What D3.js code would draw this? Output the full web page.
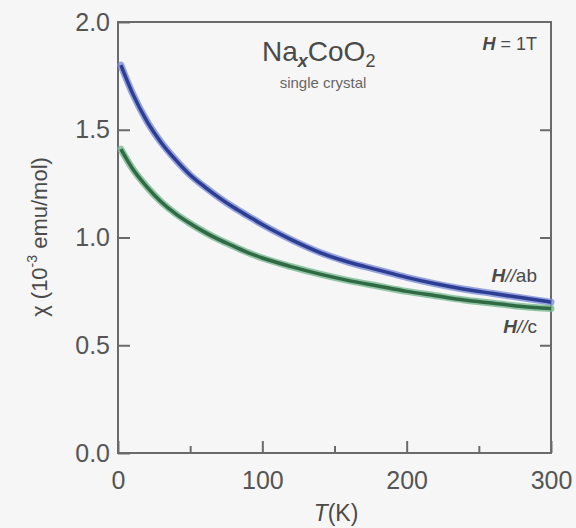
<!DOCTYPE html>
<html>
<head>
<meta charset="utf-8">
<script src="https://cdn.jsdelivr.net/npm/d3@7"></script>
<style>
  html, body { margin: 0; padding: 0; background: #f6f6f6; }
  svg { display: block; font-family: "Liberation Sans", Arial, sans-serif; }
  .axis path, .axis line { stroke: #6a6a6a; stroke-width: 2; }
  .axis text { fill: #555; font-size: 25px; font-family: "Liberation Sans", Arial, sans-serif; }
</style>
</head>
<body>
<div id="chart"></div>
<script>
// Data: temperature in K, chi in 1e-3 emu/mol
const temps   = [2, 10, 20, 30, 40, 50, 60, 70, 80, 90, 100, 120, 140, 160, 180, 200, 220, 240, 260, 280, 300];
const chiAB   = [1.80, 1.67, 1.54, 1.44, 1.36, 1.29, 1.235, 1.185, 1.14, 1.10, 1.06, 0.99, 0.93, 0.885, 0.85, 0.815, 0.785, 0.76, 0.74, 0.72, 0.70];
const chiC    = [1.41, 1.32, 1.235, 1.165, 1.11, 1.065, 1.025, 0.99, 0.96, 0.93, 0.905, 0.865, 0.83, 0.80, 0.775, 0.75, 0.73, 0.71, 0.695, 0.68, 0.67];
const xTicks  = [0, 100, 200, 300];
const xMinor  = [50, 150, 250];
const yTicks  = [0, 0.5, 1.0, 1.5, 2.0];

const width = 576, height = 528;
const margin = { top: 22, right: 25, bottom: 75, left: 118 };
const w = width - margin.left - margin.right;
const h = height - margin.top - margin.bottom;

const svg = d3.select("#chart").append("svg")
  .attr("width", width)
  .attr("height", height);

const g = svg.append("g").attr("transform", `translate(${margin.left},${margin.top})`);

const x = d3.scaleLinear().domain([0, 300]).range([0, w]);
const y = d3.scaleLinear().domain([0, 2.0]).range([h, 0]);

// frame
g.append("rect")
  .attr("width", w).attr("height", h)
  .attr("fill", "none")
  .attr("stroke", "#6a6a6a")
  .attr("stroke-width", 2);

// left axis
g.append("g").attr("class", "axis")
  .call(d3.axisLeft(y).tickValues(yTicks).tickFormat(d3.format(".1f")).tickSize(-12).tickPadding(8))
  .call(s => s.select(".domain").remove());

// right axis ticks
g.append("g").attr("class", "axis")
  .attr("transform", `translate(${w},0)`)
  .call(d3.axisRight(y).tickValues([0.5, 1.0, 1.5]).tickSize(-11).tickFormat(""))
  .call(s => s.select(".domain").remove());

// bottom axis
g.append("g").attr("class", "axis")
  .attr("transform", `translate(0,${h})`)
  .call(d3.axisBottom(x).tickValues(xTicks).tickSize(-12).tickPadding(18))
  .call(s => s.select(".domain").remove());

g.append("g").attr("class", "axis")
  .attr("transform", `translate(0,${h})`)
  .call(d3.axisBottom(x).tickValues(xMinor).tickSize(-7).tickFormat(""))
  .call(s => s.select(".domain").remove());

// curves
const series = [
  { name: "ab", values: chiAB, halo: "#7d8fd8", core: "#2d3d92" },
  { name: "c",  values: chiC,  halo: "#79b991", core: "#2f6a45" }
];

const line = d3.line()
  .x((d, i) => x(temps[i]))
  .y(d => y(d))
  .curve(d3.curveMonotoneX);

series.forEach(s => {
  g.append("path")
    .datum(s.values)
    .attr("fill", "none")
    .attr("stroke", s.halo)
    .attr("stroke-width", 7)
    .attr("stroke-opacity", 0.8)
    .attr("stroke-linecap", "round")
    .attr("d", line);
  g.append("path")
    .datum(s.values)
    .attr("fill", "none")
    .attr("stroke", s.core)
    .attr("stroke-width", 3.5)
    .attr("d", line);
});

// title
const title = svg.append("text")
  .attr("x", 262).attr("y", 61)
  .attr("fill", "#4a4a4a")
  .attr("font-size", 28);
title.append("tspan").text("Na");
title.append("tspan").attr("font-size", 18).attr("dy", 6)
  .attr("font-weight", "bold").attr("font-style", "italic").text("x");
title.append("tspan").attr("dy", -6).text("CoO");
title.append("tspan").attr("font-size", 18).attr("dy", 6).text("2");

svg.append("text")
  .attr("x", 323).attr("y", 88)
  .attr("text-anchor", "middle")
  .attr("fill", "#666")
  .attr("font-size", 15)
  .text("single crystal");

// field label
const field = svg.append("text")
  .attr("x", 537).attr("y", 50)
  .attr("text-anchor", "end")
  .attr("fill", "#4a4a4a")
  .attr("font-size", 18);
field.append("tspan").attr("font-weight", "bold").attr("font-style", "italic").text("H");
field.append("tspan").text(" = 1T");

// series labels
function seriesLabel(yPos, suffix) {
  const t = svg.append("text")
    .attr("x", 537).attr("y", yPos)
    .attr("text-anchor", "end")
    .attr("fill", "#4a4a4a")
    .attr("font-size", 19);
  t.append("tspan").attr("font-weight", "bold").attr("font-style", "italic").text("H");
  t.append("tspan").attr("font-style", "italic").text("//");
  t.append("tspan").text(suffix);
}
seriesLabel(282, "ab");
seriesLabel(333, "c");

// axis titles
const xt = svg.append("text")
  .attr("x", 336).attr("y", 521)
  .attr("text-anchor", "middle")
  .attr("fill", "#4a4a4a")
  .attr("font-size", 23);
xt.append("tspan").attr("font-style", "italic").text("T");
xt.append("tspan").text("(K)");

const yt = svg.append("text")
  .attr("transform", "translate(47,237) rotate(-90)")
  .attr("text-anchor", "middle")
  .attr("fill", "#4a4a4a")
  .attr("font-size", 22);
yt.append("tspan").text("χ (10");
yt.append("tspan").attr("font-size", 14).attr("dy", -10).text("-3");
yt.append("tspan").attr("dy", 10).text(" emu/mol)");
</script>
</body>
</html>
